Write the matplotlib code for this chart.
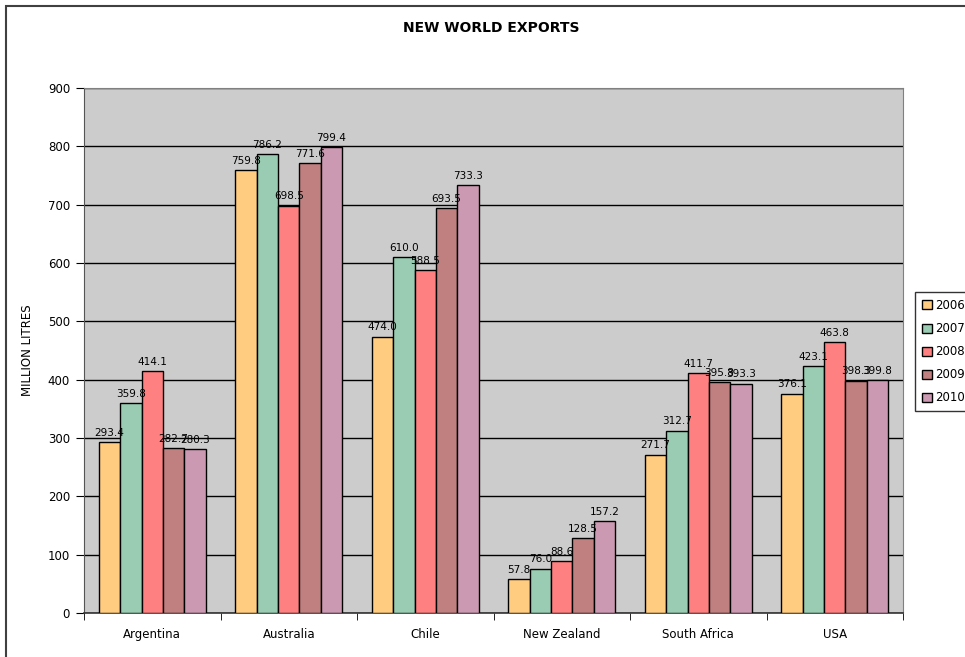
import numpy as np
import matplotlib.pyplot as plt
from matplotlib.patches import Rectangle

# Export volumes by country and year
countries = ["Argentina", "Australia", "Chile", "New Zealand", "South Africa", "USA"]
years = ["2006", "2007", "2008", "2009*", "2010*"]
exports_2006 = [293.4, 759.8, 474.0, 57.8, 271.7, 376.1]
exports_2007 = [359.8, 786.2, 610.0, 76.0, 312.7, 423.1]
exports_2008 = [414.1, 698.5, 588.5, 88.6, 411.7, 463.8]
exports_2009 = [282.7, 771.6, 693.5, 128.5, 395.8, 398.3]
exports_2010 = [280.3, 799.4, 733.3, 157.2, 393.3, 399.8]
series = [exports_2006, exports_2007, exports_2008, exports_2009, exports_2010]
colors = ["#FFCC80", "#99CCB2", "#FF8080", "#C08080", "#CC99B2"]

W, H = 965, 657
fig = plt.figure(figsize=(W / 100, H / 100), dpi=100)
fig.patch.set_facecolor("white")

# outer frame, runs off the right and bottom edge
fig.patches.append(Rectangle((6 / W, -0.05), 1.2, 1 - 6 / H + 0.05, transform=fig.transFigure,
                             fill=False, edgecolor="#404040", linewidth=1.5))

ax = fig.add_axes([84 / W, 1 - 613 / H, (903 - 84) / W, (613 - 88) / H])
ax.set_facecolor("#CCCCCC")

n = len(years)
bw = 1 / (n + 1.4)
x = np.arange(len(countries))
for i, (vals, col, yr) in enumerate(zip(series, colors, years)):
    pos = x + (i - (n - 1) / 2) * bw
    ax.bar(pos, vals, width=bw, color=col, edgecolor="black", linewidth=1.0,
           label=yr, zorder=3)
    for p, v in zip(pos, vals):
        ax.annotate(f"{v:.1f}", (p, v), xytext=(0, 3), textcoords="offset points",
                    ha="center", va="bottom", fontsize=7.5, zorder=4)

ax.set_xlim(-0.5, len(countries) - 0.5)
ax.set_ylim(0, 900)
ax.set_yticks(np.arange(0, 901, 100))
ax.yaxis.grid(True, color="black", linewidth=1.0, zorder=1)
ax.set_axisbelow(True)
ax.tick_params(axis="y", labelsize=8.5, length=6, pad=4, direction="out")

# category labels centred, ticks on the group boundaries
ax.set_xticks(x)
ax.set_xticklabels(countries, fontsize=8.5)
ax.tick_params(axis="x", length=0, pad=11)
ax.set_xticks(np.arange(-0.5, len(countries)), minor=True)
ax.tick_params(axis="x", which="minor", length=5, direction="out")

for s in ["top", "right"]:
    ax.spines[s].set_color("#808080")
ax.spines["left"].set_color("#555555")
ax.spines["bottom"].set_color("#333333")
ax.spines["bottom"].set_linewidth(1.2)

ax.set_ylabel("MILLION LITRES", fontsize=8.5, labelpad=10)
fig.text(491 / W, 1 - 28 / H, "NEW WORLD EXPORTS", ha="center", va="center",
         fontsize=10, fontweight="bold")

leg = fig.legend(loc="upper left", bbox_to_anchor=(915 / W, 1 - 292 / H), fontsize=8.5,
                 handlelength=0.8, handleheight=0.8, handletextpad=0.3, labelspacing=0.85,
                 borderpad=0.6, frameon=True, fancybox=False, borderaxespad=0)
leg.get_frame().set_edgecolor("black")
leg.get_frame().set_linewidth(1.0)

fig.savefig("out.png", dpi=100)
